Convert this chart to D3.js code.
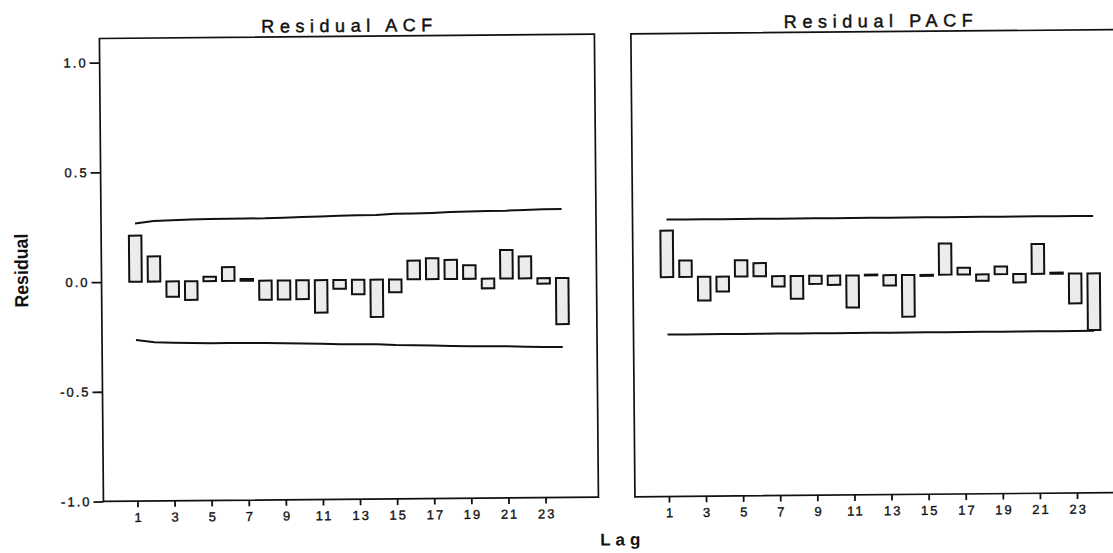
<!DOCTYPE html>
<html lang="en">
<head>
<meta charset="UTF-8">
<title>Residual ACF / PACF</title>
<script src="https://d3js.org/d3.v7.min.js"></script>
<style>
  body { margin: 0; background: #fff; }
  svg { display: block; }
  text { font-family: "Liberation Sans", Arial, sans-serif; fill: #111; }
</style>
</head>
<body>
<svg></svg>
<script>

// lags shown on both panels
var lags = [1, 2, 3, 4, 5, 6, 7, 8, 9, 10, 11, 12, 13, 14, 15, 16, 17, 18, 19, 20, 21, 22, 23, 24];
var xTicks = [1, 3, 5, 7, 9, 11, 13, 15, 17, 19, 21, 23];
var yTicks = [-1.0, -0.5, 0.0, 0.5, 1.0];

// residual ACF
var acf = [0.21, 0.115, -0.07, -0.085, 0.02, 0.063, 0.008, -0.087, -0.087, -0.086, -0.148, -0.04,
           -0.066, -0.17, -0.058, 0.085, 0.095, 0.087, 0.062, -0.044, 0.13, 0.10, -0.025, -0.21];
var acfUpper = [0.265, 0.276, 0.279, 0.281, 0.283, 0.283, 0.284, 0.284, 0.286, 0.288, 0.290, 0.293,
                0.294, 0.295, 0.299, 0.300, 0.302, 0.305, 0.307, 0.308, 0.309, 0.312, 0.314, 0.314];
var acfLower = [-0.265, -0.276, -0.279, -0.281, -0.283, -0.283, -0.284, -0.284, -0.286, -0.288, -0.290, -0.293,
                -0.294, -0.295, -0.299, -0.300, -0.302, -0.305, -0.307, -0.308, -0.309, -0.312, -0.314, -0.314];

// residual PACF
var pacf = [0.212, 0.075, -0.108, -0.068, 0.074, 0.06, -0.047, -0.104, -0.037, -0.042, -0.146, 0.003,
            -0.047, -0.19, -0.005, 0.142, 0.031, -0.029, 0.035, -0.038, 0.136, 0.005, -0.136, -0.258];
var pacfUpper = [0.262, 0.262, 0.262, 0.262, 0.262, 0.262, 0.262, 0.262, 0.262, 0.262, 0.262, 0.262,
                 0.262, 0.262, 0.262, 0.262, 0.262, 0.262, 0.262, 0.262, 0.262, 0.262, 0.262, 0.262];
var pacfLower = [-0.262, -0.262, -0.262, -0.262, -0.262, -0.262, -0.262, -0.262, -0.262, -0.262, -0.262, -0.262,
                 -0.262, -0.262, -0.262, -0.262, -0.262, -0.262, -0.262, -0.262, -0.262, -0.262, -0.262, -0.262];

var width = 1113, height = 553;
var svg = d3.select("svg").attr("width", width).attr("height", height);

// the scanned page sits slightly tilted
var root = svg.append("g").attr("transform", "rotate(-0.5 556 276)");

var plotTop = 34.5, plotBottom = 497.5, panelW = 495, step = 18.55, barW = 12.5;
var y = d3.scaleLinear().domain([-1, 1.11]).range([plotBottom, plotTop]);

function drawPanel(x0, title, values, upper, lower, showY) {
    var g = root.append("g");
    var x = d3.scaleLinear()
            .domain([1, 24])
            .range([x0 + 34, x0 + 34 + 23 * step]);

    // confidence limits
    var line = d3.line()
            .x(function (d, i) { return x(lags[i]); })
            .y(function (d) { return y(d); });
    [upper, lower].forEach(function (lim) {
        g.append("path")
                .attr("d", line(lim))
                .style("fill", "none")
                .style("stroke", "#111")
                .style("stroke-width", 2);
    });

    // bars from zero
    g.selectAll("rect.bar")
            .data(values)
            .enter()
            .append("rect")
            .attr("class", "bar")
            .attr("x", function (d, i) { return x(lags[i]) - barW / 2; })
            .attr("y", function (d) { return y(Math.max(0, d)); })
            .attr("width", barW)
            .attr("height", function (d) { return Math.abs(y(d) - y(0)); })
            .style("fill", "#ececec")
            .style("stroke", "#111")
            .style("stroke-width", 2);

    // frame
    g.append("rect")
            .attr("x", x0).attr("y", plotTop)
            .attr("width", panelW).attr("height", plotBottom - plotTop)
            .style("fill", "none")
            .style("stroke", "#111")
            .style("stroke-width", 1.7);

    var xAxis = d3.axisBottom(x).tickValues(xTicks).tickSize(6).tickPadding(5.5);
    var ax = g.append("g").attr("transform", "translate(0," + plotBottom + ")").call(xAxis);
    ax.select(".domain").remove();
    ax.selectAll("line").style("stroke", "#111").style("stroke-width", 1.8);
    ax.selectAll("text").style("font-size", "13px").style("letter-spacing", "2px")
            .style("stroke", "#111").style("stroke-width", 0.35)
            .attr("dx", "1");

    if (showY) {
        var yAxis = d3.axisLeft(y).tickValues(yTicks).tickSize(10).tickPadding(2)
                .tickFormat(function (d) { return d.toFixed(1); });
        var ay = g.append("g").attr("transform", "translate(" + x0 + ",0)").call(yAxis);
        ay.select(".domain").remove();
        ay.selectAll("line").style("stroke", "#111").style("stroke-width", 1.8);
        ay.selectAll("text").style("font-size", "13px").style("letter-spacing", "2px")
                .style("stroke", "#111").style("stroke-width", 0.35);
    }

    g.append("text")
            .attr("x", x0 + panelW / 2)
            .attr("y", 30)
            .attr("text-anchor", "middle")
            .attr("textLength", title === "Residual ACF" ? 171 : 189)
            .attr("lengthAdjust", "spacing")
            .style("font-size", "18px")
            .style("stroke", "#111")
            .style("stroke-width", 0.45)
            .text(title);
}

drawPanel(101.5, "Residual ACF", acf, acfUpper, acfLower, true);
drawPanel(633, "Residual PACF", pacf, pacfUpper, pacfLower, false);

root.append("text")
        .attr("transform", "translate(28,266) rotate(-90)")
        .attr("text-anchor", "middle")
        .attr("textLength", 74)
        .attr("lengthAdjust", "spacingAndGlyphs")
        .style("font-family", "'Liberation Sans Narrow', 'Liberation Sans', sans-serif")
        .style("font-weight", "bold")
        .style("font-size", "19px")
        .text("Residual");

root.append("text")
        .attr("x", 618)
        .attr("y", 546)
        .attr("text-anchor", "middle")
        .attr("textLength", 40)
        .attr("lengthAdjust", "spacing")
        .style("font-weight", "bold")
        .style("font-size", "17px")
        .text("Lag");

</script>
</body>
</html>
